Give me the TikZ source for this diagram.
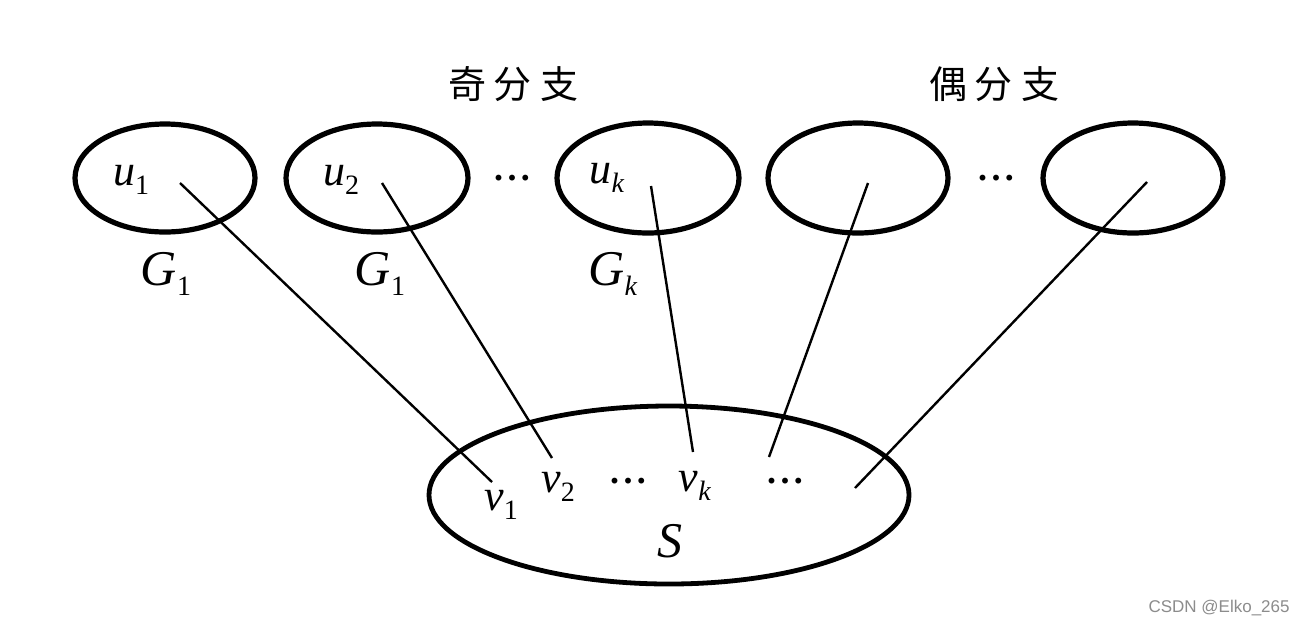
\documentclass[tikz,border=0pt]{standalone}
\usepackage{fontspec}
\setmainfont{Liberation Serif}
\newfontfamily\cjk{Noto Sans CJK SC}
\newfontfamily\wmfont{Liberation Sans}
\newcommand{\mylab}[2]{\textit{#1}\raisebox{-0.45ex}{\fontsize{14pt}{14pt}\selectfont #2}}
\newcommand{\mydots}{.\hspace{2.2pt}.\hspace{2.2pt}.}
\begin{document}
\begin{tikzpicture}[x=0.5pt,y=-0.5pt,
  edge/.style={line width=1.2pt},
  ring/.style={line width=2.6pt},
  lbl/.style={inner sep=0pt,font=\fontsize{22pt}{22pt}\selectfont},
  glbl/.style={inner sep=0pt,font=\fontsize{25pt}{25pt}\selectfont},
  cjklbl/.style={inner sep=0pt,font=\cjk\fontsize{19pt}{19pt}\selectfont},
  dots/.style={inner sep=0pt,font=\bfseries\fontsize{18pt}{18pt}\selectfont}]
\useasboundingbox (0,0) rectangle (1304,628);
\fill[white] (0,0) rectangle (1304,628);
% top components
\draw[ring] (165,178) ellipse [x radius=90, y radius=54];
\draw[ring] (377,178) ellipse [x radius=91, y radius=54];
\draw[ring] (648,178) ellipse [x radius=91, y radius=55];
\draw[ring] (858,178) ellipse [x radius=90, y radius=55];
\draw[ring] (1133,178) ellipse [x radius=90, y radius=55];
% bottom S
\draw[line width=2.4pt] (669,495) ellipse [x radius=240, y radius=89];
% end points
\coordinate (a1) at (180,183);
\coordinate (a2) at (382,183);
\coordinate (a3) at (651,186);
\coordinate (a4) at (868,183);
\coordinate (a5) at (1147,182);
\coordinate (b1) at (492,482);
\coordinate (b2) at (552,458);
\coordinate (b3) at (693,452);
\coordinate (b4) at (769,457);
\coordinate (b5) at (855,488);
\draw[edge] (a1) -- (b1);
\draw[edge] (a2) -- (b2);
\draw[edge] (a3) -- (b3);
\draw[edge] (a4) -- (b4);
\draw[edge] (a5) -- (b5);
% labels
\node[cjklbl] (odd) at (513,84) {奇\hspace{4pt}分\hspace{4pt}支};
\node[cjklbl] (even) at (994,84) {偶\hspace{4pt}分\hspace{4pt}支};
\node[lbl] (u1) at (131,180) {\mylab{u}{1}};
\node[lbl] (u2) at (341,180) {\mylab{u}{2}};
\node[lbl] (uk) at (607,178) {\mylab{u}{\textit{k}}};
\node[glbl] (g1) at (166,274) {\mylab{G}{1}};
\node[glbl] (g2) at (380,274) {\mylab{G}{1}};
\node[glbl] (gk) at (613,274) {\mylab{G}{\textit{k}}};
\node[dots] (d1) at (512,178) {\mydots};
\node[dots] (d2) at (996,178) {\mydots};
\node[lbl] (v1) at (501,505) {\mylab{v}{1}};
\node[lbl] (v2) at (558,487) {\mylab{v}{2}};
\node[lbl] (vk) at (695,486) {\mylab{v}{\textit{k}}};
\node[dots] (d3) at (628,481) {\mydots};
\node[dots] (d4) at (785,481) {\mydots};
\node[glbl] (s) at (670,541) {\textit{S}};
\node[inner sep=0pt,text=black!45,font=\wmfont\fontsize{8.5pt}{8.5pt}\selectfont,anchor=east] (wm) at (1290,608) {CSDN @Elko\_265};
\end{tikzpicture}
\end{document}
